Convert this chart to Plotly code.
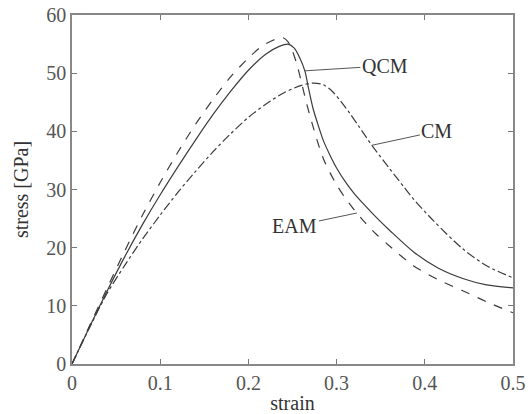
import numpy as np
import plotly.graph_objects as go

# EAM (dashed)
eam_strain = [0, 0.02, 0.04, 0.06, 0.08, 0.10, 0.12, 0.14, 0.16, 0.18, 0.20, 0.215, 0.23, 0.239,
              0.245, 0.25, 0.255, 0.261, 0.266, 0.272, 0.278, 0.285, 0.2925, 0.30, 0.31, 0.32,
              0.33, 0.345, 0.36, 0.387, 0.415, 0.443, 0.47, 0.5]
eam_stress = [0, 6.6, 13.1, 19.5, 25.6, 31.2, 36.4, 41.2, 45.5, 49.4, 52.6, 54.6, 55.8, 56.1,
              55.4, 53.8, 51.5, 47.9, 44.8, 41.5, 38.4, 35.3, 32.9, 30.8, 28.5, 26.5,
              24.7, 22.3, 20.3, 16.9, 14.5, 12.6, 10.7, 8.8]

# QCM (solid)
qcm_strain = [0, 0.02, 0.04, 0.06, 0.08, 0.10, 0.12, 0.14, 0.16, 0.18, 0.20, 0.22, 0.235, 0.245,
              0.252, 0.258, 0.264, 0.268, 0.273, 0.279, 0.285, 0.2925, 0.30, 0.31, 0.32, 0.33,
              0.345, 0.36, 0.387, 0.415, 0.443, 0.47, 0.5]
qcm_stress = [0, 6.4, 12.6, 18.5, 24.0, 29.1, 33.9, 38.5, 42.9, 46.9, 50.5, 53.3, 54.6, 55.0,
              54.3, 52.7, 50.4, 47.5, 44.1, 41.1, 38.4, 35.9, 33.7, 31.3, 29.3, 27.6,
              25.2, 23.0, 19.3, 16.5, 14.7, 13.6, 13.1]

# CM (dash-dot)
cm_strain = [0, 0.02, 0.04, 0.06, 0.08, 0.10, 0.12, 0.14, 0.16, 0.18, 0.20, 0.22, 0.24, 0.26,
             0.274, 0.285, 0.295, 0.305, 0.315, 0.325, 0.34, 0.36, 0.376, 0.387, 0.41, 0.443,
             0.47, 0.5]
cm_stress = [0, 6.3, 12.2, 17.0, 21.5, 25.6, 29.5, 33.1, 36.5, 39.6, 42.4, 44.7, 46.6, 47.9,
             48.3, 48.0, 46.9, 45.1, 43.1, 40.9, 37.6, 33.6, 30.5, 28.4, 24.6, 19.8,
             16.9, 14.8]

x_ticks = [0, 0.1, 0.2, 0.3, 0.4, 0.5]
x_tick_labels = ["0", "0.1", "0.2", "0.3", "0.4", "0.5"]
y_ticks = [0, 10, 20, 30, 40, 50, 60]

FONT = "Liberation Serif"
LINE_COL = "#3c3c3c"
FS = 20

fig = go.Figure()
fig.add_trace(go.Scatter(x=eam_strain, y=eam_stress, mode="lines", name="EAM",
                         line=dict(color=LINE_COL, width=1.2, dash="dash", shape="spline", smoothing=0.8)))
fig.add_trace(go.Scatter(x=qcm_strain, y=qcm_stress, mode="lines", name="QCM",
                         line=dict(color=LINE_COL, width=1.2, dash="solid", shape="spline", smoothing=0.8)))
fig.add_trace(go.Scatter(x=cm_strain, y=cm_stress, mode="lines", name="CM",
                         line=dict(color=LINE_COL, width=1.2, dash="dashdot", shape="spline", smoothing=0.8)))

def ann(text, xs, ys, x0, ax, ay):
    y0 = float(np.interp(x0, xs, ys))
    return dict(x=x0, y=y0, xref="x", yref="y", text=text, showarrow=True, arrowhead=0,
                arrowwidth=1, arrowcolor="#555", ax=ax, ay=ay,
                font=dict(family=FONT, size=FS, color="#333"))

fig.update_layout(
    width=528, height=414,
    margin=dict(l=72, r=15, t=15, b=50, autoexpand=False),
    paper_bgcolor="white", plot_bgcolor="white",
    showlegend=False,
    font=dict(family=FONT, size=FS, color="#333"),
    annotations=[
        ann("QCM", qcm_strain, qcm_stress, 0.264, 80, -5),
        ann("CM", cm_strain, cm_stress, 0.340, 65, -14),
        ann("EAM", eam_strain, eam_stress, 0.323, -62, 13),
    ],
)
fig.update_xaxes(range=[0, 0.5], tickvals=x_ticks, ticktext=x_tick_labels, automargin=False,
                 ticks="inside", ticklen=5, tickcolor="#777", mirror="ticks",
                 showline=True, linecolor="#888", linewidth=1.5, showgrid=False, zeroline=False,
                 tickfont=dict(family=FONT, size=FS, color="#555"),
                 title=dict(text="strain", font=dict(family=FONT, size=FS, color="#333"), standoff=4))
fig.update_yaxes(range=[0, 60], tickvals=y_ticks, automargin=False,
                 ticks="inside", ticklen=5, tickcolor="#777", mirror="ticks",
                 showline=True, linecolor="#888", linewidth=1.5, showgrid=False, zeroline=False,
                 tickfont=dict(family=FONT, size=FS, color="#555"),
                 title=dict(text="stress [GPa]", font=dict(family=FONT, size=FS, color="#333"), standoff=12))

fig.write_html("out.html", config={"displayModeBar": False},
               post_script="document.body.style.margin='0';document.body.style.padding='0';")
